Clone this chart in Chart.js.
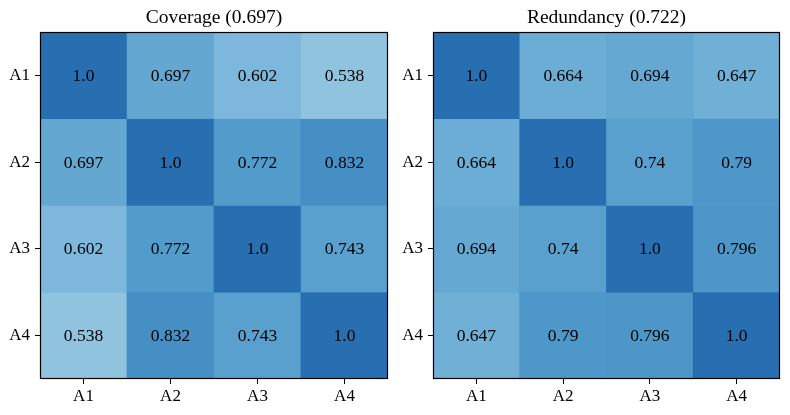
<!DOCTYPE html>
<html>
<head>
<meta charset="utf-8">
<script src="https://cdn.jsdelivr.net/npm/chart.js@4.4.0/dist/chart.umd.min.js"></script>
<style>
  html, body { margin: 0; padding: 0; background: #fff; }
  #wrap { position: relative; width: 790px; height: 415px; }
  .panel { position: absolute; top: 0; height: 415px; }
</style>
</head>
<body>
<div id="wrap">
  <div class="panel" style="left:0;width:393px"><canvas id="cov"></canvas></div>
  <div class="panel" style="left:393px;width:397px"><canvas id="red"></canvas></div>
</div>
<script>
// heatmap data
const labels = ['A1', 'A2', 'A3', 'A4'];
const coverageTitle = 'Coverage (0.697)';
const coverage = [
  [1.0, 0.697, 0.602, 0.538],
  [0.697, 1.0, 0.772, 0.832],
  [0.602, 0.772, 1.0, 0.743],
  [0.538, 0.832, 0.743, 1.0],
];
const redundancyTitle = 'Redundancy (0.722)';
const redundancy = [
  [1.0, 0.664, 0.694, 0.647],
  [0.664, 1.0, 0.74, 0.79],
  [0.694, 0.74, 1.0, 0.796],
  [0.647, 0.79, 0.796, 1.0],
];

// matplotlib "Blues" stops
const blues = [
  [247, 251, 255], [222, 235, 247], [198, 219, 239], [158, 202, 225], [107, 174, 214],
  [66, 146, 198], [33, 113, 181], [8, 81, 156], [8, 48, 107]
];
const VMAX = 1.25;

function bluesColor(v) {
  let t = Math.max(0, Math.min(1, v / VMAX)) * (blues.length - 1);
  const i = Math.min(blues.length - 2, Math.floor(t));
  const f = t - i;
  const c = blues[i].map((a, k) => Math.round(a + (blues[i + 1][k] - a) * f));
  return `rgba(${c[0]},${c[1]},${c[2]},0.93)`;
}

const fmt = v => (v === 1 ? '1.0' : String(v));
const FONT = 'Liberation Serif, Times New Roman, serif';

const cellText = {
  id: 'cellText',
  afterDatasetsDraw(chart) {
    const { ctx } = chart;
    const m = chart.options.plugins.cellText.matrix;
    ctx.save();
    ctx.fillStyle = '#000';
    ctx.font = '17.5px ' + FONT;
    ctx.textAlign = 'center';
    ctx.textBaseline = 'middle';
    chart.data.datasets.forEach((ds, i) => {
      chart.getDatasetMeta(i).data.forEach((bar, j) => {
        ctx.fillText(fmt(m[i][j]), bar.x, (bar.y + bar.base) / 2 + 1);
      });
    });
    ctx.restore();
  }
};

// matplotlib-style box round the axes
const frame = {
  id: 'frame',
  afterDraw(chart) {
    const a = chart.chartArea;
    const ctx = chart.ctx;
    ctx.save();
    ctx.strokeStyle = '#000';
    ctx.lineWidth = 1.2;
    ctx.strokeRect(Math.round(a.left) + 0.5, Math.round(a.top) + 0.5,
      Math.round(a.right - a.left) - 1, Math.round(a.bottom - a.top) - 1);
    ctx.restore();
  }
};

function heatmap(id, title, matrix, padRight) {
  const datasets = matrix.map((row, i) => ({
    data: row.map(() => [i, i + 1]),
    backgroundColor: row.map(bluesColor),
    borderWidth: 0,
    borderSkipped: false,
    grouped: false,
    barPercentage: 1,
    categoryPercentage: 1,
  }));
  return new Chart(document.getElementById(id), {
    type: 'bar',
    data: { labels, datasets },
    options: {
      responsive: true,
      maintainAspectRatio: false,
      animation: false,
      layout: { padding: { left: 0, right: padRight, top: 0, bottom: 0 } },
      plugins: {
        legend: { display: false },
        tooltip: { enabled: false },
        title: {
          display: true, text: title, color: '#000', fullSize: false,
          font: { family: FONT, size: 19.5, weight: 'normal' },
          padding: { top: 6, bottom: 2.6 }
        },
        cellText: { matrix }
      },
      scales: {
        x: {
          type: 'category',
          offset: true,
          afterFit: s => { s.height = 36; },
          ticks: { color: '#000', font: { family: FONT, size: 17 }, padding: 2, maxRotation: 0 },
          grid: { offset: false, drawOnChartArea: false, drawTicks: true, tickLength: 5, color: '#000' },
          border: { display: false }
        },
        y: {
          type: 'linear', min: 0, max: 4, reverse: true,
          afterFit: s => { s.width = 40; },
          afterBuildTicks: s => { s.ticks = [0.5, 1.5, 2.5, 3.5].map(v => ({ value: v })); },
          ticks: {
            color: '#000', font: { family: FONT, size: 17 }, padding: 5,
            callback: v => labels[Math.floor(v)]
          },
          grid: { drawOnChartArea: false, drawTicks: true, tickLength: 5, color: '#000' },
          border: { display: false }
        }
      }
    },
    plugins: [cellText, frame]
  });
}

heatmap('cov', coverageTitle, coverage, 5);
heatmap('red', redundancyTitle, redundancy, 10);
</script>
</body>
</html>
